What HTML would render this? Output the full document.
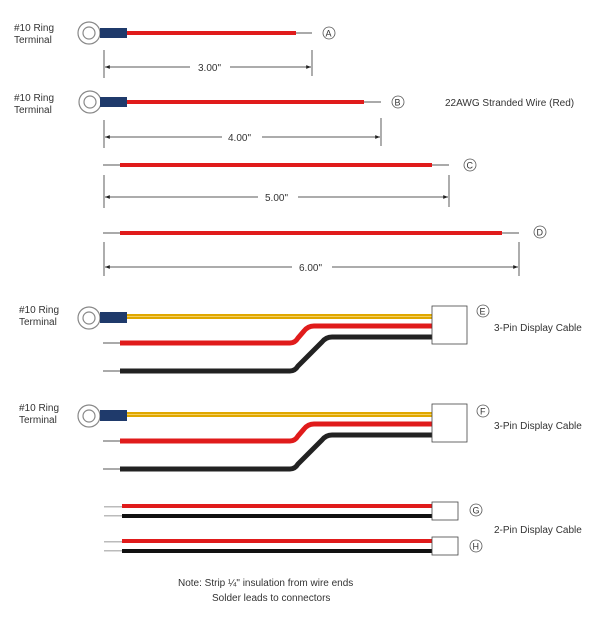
<!DOCTYPE html>
<html><head><style>
html,body{margin:0;padding:0;background:#fff;}
svg{display:block;}
text{font-family:"Liberation Sans",sans-serif;font-size:10px;fill:#333;}
</style></head><body>
<svg width="605" height="620" viewBox="0 0 605 620" xmlns="http://www.w3.org/2000/svg">
<defs>
<g id="ring">
<circle r="11" fill="#fff" stroke="#888" stroke-width="1.2"/>
<circle r="6" fill="#fff" stroke="#888" stroke-width="1.2"/>
</g>
<marker id="ar" viewBox="0 0 10 10" refX="10" refY="5" markerWidth="8" markerHeight="6" orient="auto-start-reverse"><path d="M0,1 L10,5 L0,9 z" fill="#222"/></marker>
</defs>

<!-- A -->
<text x="14" y="31">#10 Ring</text><text x="14" y="43">Terminal</text>
<use href="#ring" x="89" y="33"/>
<rect x="100" y="28" width="27" height="10" fill="#1f3a6b"/>
<rect x="127" y="31" width="169" height="4" fill="#e01b1b"/>
<rect x="296" y="32" width="16" height="2" fill="#aaa"/>
<circle cx="329" cy="33" r="6" fill="#fff" stroke="#555" stroke-width="0.8"/><text x="325.5" y="36.5" style="font-size:9px">A</text>
<line x1="104" y1="50" x2="104" y2="78" stroke="#333" stroke-width="0.8"/>
<line x1="312" y1="50" x2="312" y2="76" stroke="#333" stroke-width="0.8"/>
<line x1="105" y1="67" x2="190" y2="67" stroke="#222" stroke-width="0.8" marker-start="url(#ar)"/>
<line x1="230" y1="67" x2="311" y2="67" stroke="#222" stroke-width="0.8" marker-end="url(#ar)"/>
<text x="198" y="71">3.00"</text>

<!-- B -->
<text x="14" y="101">#10 Ring</text><text x="14" y="113">Terminal</text>
<use href="#ring" x="90" y="102"/>
<rect x="100" y="97" width="27" height="10" fill="#1f3a6b"/>
<rect x="127" y="100" width="237" height="4" fill="#e01b1b"/>
<rect x="364" y="101" width="17" height="2" fill="#aaa"/>
<circle cx="398" cy="102" r="6" fill="#fff" stroke="#555" stroke-width="0.8"/><text x="394.5" y="105.5" style="font-size:9px">B</text>
<text x="445" y="106">22AWG Stranded Wire (Red)</text>
<line x1="104" y1="120" x2="104" y2="148" stroke="#333" stroke-width="0.8"/>
<line x1="381" y1="118" x2="381" y2="146" stroke="#333" stroke-width="0.8"/>
<line x1="105" y1="137" x2="222" y2="137" stroke="#222" stroke-width="0.8" marker-start="url(#ar)"/>
<line x1="262" y1="137" x2="380" y2="137" stroke="#222" stroke-width="0.8" marker-end="url(#ar)"/>
<text x="228" y="141">4.00"</text>

<!-- C -->
<rect x="103" y="164" width="17" height="2" fill="#aaa"/>
<rect x="120" y="163" width="312" height="4" fill="#e01b1b"/>
<rect x="432" y="164" width="17" height="2" fill="#aaa"/>
<circle cx="470" cy="165" r="6" fill="#fff" stroke="#555" stroke-width="0.8"/><text x="466.5" y="168.5" style="font-size:9px">C</text>
<line x1="104" y1="175" x2="104" y2="208" stroke="#333" stroke-width="0.8"/>
<line x1="449" y1="175" x2="449" y2="207" stroke="#333" stroke-width="0.8"/>
<line x1="105" y1="197" x2="258" y2="197" stroke="#222" stroke-width="0.8" marker-start="url(#ar)"/>
<line x1="298" y1="197" x2="448" y2="197" stroke="#222" stroke-width="0.8" marker-end="url(#ar)"/>
<text x="265" y="201">5.00"</text>

<!-- D -->
<rect x="103" y="232" width="17" height="2" fill="#aaa"/>
<rect x="120" y="231" width="382" height="4" fill="#e01b1b"/>
<rect x="502" y="232" width="17" height="2" fill="#aaa"/>
<circle cx="540" cy="232" r="6" fill="#fff" stroke="#555" stroke-width="0.8"/><text x="536.5" y="235.5" style="font-size:9px">D</text>
<line x1="104" y1="242" x2="104" y2="276" stroke="#333" stroke-width="0.8"/>
<line x1="519" y1="242" x2="519" y2="276" stroke="#333" stroke-width="0.8"/>
<line x1="105" y1="267" x2="292" y2="267" stroke="#222" stroke-width="0.8" marker-start="url(#ar)"/>
<line x1="332" y1="267" x2="518" y2="267" stroke="#222" stroke-width="0.8" marker-end="url(#ar)"/>
<text x="299" y="271">6.00"</text>

<!-- E -->
<g id="e3">
<text x="19" y="313">#10 Ring</text><text x="19" y="325">Terminal</text>
<use href="#ring" x="89" y="318"/>
<rect x="100" y="312" width="27" height="11" fill="#1f3a6b"/>
<rect x="127" y="314" width="306" height="5" fill="#e0a800"/>
<rect x="127" y="316" width="306" height="1" fill="#f5d060"/>
<rect x="103" y="342" width="17" height="2" fill="#aaa"/>
<path d="M120,343 L290,343 Q295,343 298,338 L304,331 Q308,326 314,326 L433,326" fill="none" stroke="#e01b1b" stroke-width="5"/>
<rect x="103" y="370" width="17" height="2" fill="#aaa"/>
<path d="M120,371 L290,371 Q295,371 298,366 L322,342 Q326,337 332,337 L433,337" fill="none" stroke="#222" stroke-width="5"/>
<rect x="432" y="306" width="35" height="38" fill="#fff" stroke="#444" stroke-width="0.8"/>
<circle cx="483" cy="311" r="6" fill="#fff" stroke="#555" stroke-width="0.8"/><text x="479.5" y="314.5" style="font-size:9px">E</text>
<text x="494" y="331">3-Pin Display Cable</text>
</g>

<!-- F -->
<g transform="translate(0,98)">
<text x="19" y="313">#10 Ring</text><text x="19" y="325">Terminal</text>
<use href="#ring" x="89" y="318"/>
<rect x="100" y="312" width="27" height="11" fill="#1f3a6b"/>
<rect x="127" y="314" width="306" height="5" fill="#e0a800"/>
<rect x="127" y="316" width="306" height="1" fill="#f5d060"/>
<rect x="103" y="342" width="17" height="2" fill="#aaa"/>
<path d="M120,343 L290,343 Q295,343 298,338 L304,331 Q308,326 314,326 L433,326" fill="none" stroke="#e01b1b" stroke-width="5"/>
<rect x="103" y="370" width="17" height="2" fill="#aaa"/>
<path d="M120,371 L290,371 Q295,371 298,366 L322,342 Q326,337 332,337 L433,337" fill="none" stroke="#222" stroke-width="5"/>
<rect x="432" y="306" width="35" height="38" fill="#fff" stroke="#444" stroke-width="0.8"/>
<circle cx="483" cy="313" r="6" fill="#fff" stroke="#555" stroke-width="0.8"/><text x="480" y="316.5" style="font-size:9px">F</text>
<text x="494" y="331">3-Pin Display Cable</text>
</g>

<!-- G -->
<rect x="104" y="506" width="18" height="1.5" fill="#bbb"/>
<rect x="104" y="515" width="18" height="1.5" fill="#bbb"/>
<rect x="122" y="504" width="311" height="4" fill="#e01b1b"/>
<rect x="122" y="514" width="311" height="4" fill="#111"/>
<rect x="432" y="502" width="26" height="18" fill="#fff" stroke="#444" stroke-width="0.8"/>
<circle cx="476" cy="510" r="6" fill="#fff" stroke="#555" stroke-width="0.8"/><text x="472.5" y="513.5" style="font-size:9px">G</text>
<!-- H -->
<rect x="104" y="541" width="18" height="1.5" fill="#bbb"/>
<rect x="104" y="550" width="18" height="1.5" fill="#bbb"/>
<rect x="122" y="539" width="311" height="4" fill="#e01b1b"/>
<rect x="122" y="549" width="311" height="4" fill="#111"/>
<rect x="432" y="537" width="26" height="18" fill="#fff" stroke="#444" stroke-width="0.8"/>
<circle cx="476" cy="546" r="6" fill="#fff" stroke="#555" stroke-width="0.8"/><text x="472.5" y="549.5" style="font-size:9px">H</text>
<text x="494" y="533">2-Pin Display Cable</text>

<text x="178" y="586">Note:  Strip ¼" insulation from wire ends</text>
<text x="212" y="601">Solder leads to connectors</text>
</svg>
</body></html>
